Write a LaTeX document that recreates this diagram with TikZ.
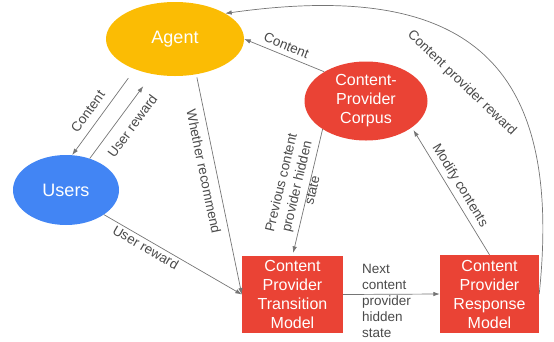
\documentclass[tikz,border=0pt]{standalone}
\usepackage{fontspec}
\setmainfont{Liberation Sans}
\usetikzlibrary{shapes.geometric,arrows.meta}
\definecolor{agentyellow}{HTML}{FBBC04}
\definecolor{userblue}{HTML}{4285F4}
\definecolor{providerred}{HTML}{EA4335}
\definecolor{edgegray}{HTML}{757575}
\definecolor{labelgray}{HTML}{4A4A4A}

\begin{document}
\begin{tikzpicture}[x=1pt,y=1pt,
  blob/.style={ellipse, inner sep=0pt, text=white, align=center},
  model/.style={rectangle, fill=providerred, inner sep=0pt, minimum height=77pt,
    text=white, align=center, font=\fontsize{16}{19}\selectfont},
  flow/.style={draw=edgegray, line width=0.7pt, -{Latex[length=6.5pt,width=4.5pt]}},
  tag/.style={text=labelgray, inner sep=2pt, font=\fontsize{13.5}{16}\selectfont}]
\useasboundingbox (0,0) rectangle (554,-341);

\node[blob, fill=agentyellow, minimum width=138pt, minimum height=74pt,
  font=\fontsize{18}{21}\selectfont] (agent) at (175,-39) {Agent};
\node[blob, fill=userblue, minimum width=106pt, minimum height=70pt,
  font=\fontsize{18}{21}\selectfont] (users) at (66,-190) {Users};
\node[blob, fill=providerred, minimum width=123pt, minimum height=79pt,
  font=\fontsize{16}{19}\selectfont] (corpus) at (366,-101) {Content-\\Provider\\Corpus};
\node[model, minimum width=101pt] (trans) at (292.5,-294.5) {Content\\Provider\\Transition\\Model};
\node[model, minimum width=99pt, minimum height=78pt] (resp) at (489.5,-294) {Content\\Provider\\Response\\Model};

\draw[flow, shorten <=11pt] (agent.217) -- node[tag, sloped, pos=0.58, above=6pt] {Content} (users.80);
\draw[flow, shorten >=15pt] (users.53) -- node[tag, sloped, pos=0.49, below=7.5pt] {User reward} (agent.237);
\draw[flow, shorten <=3pt] (agent.-59) -- node[tag, sloped, pos=0.43, below=5pt] {Whether recommend} (trans.west);
\draw[flow] (users.-33) -- node[tag, sloped, pos=0.33, below] {User reward} (trans.west);
\draw[flow] (corpus.145) -- node[tag, sloped, pos=0.52, above=3pt] {Content} (agent.east);
\draw[flow, shorten >=3pt] (corpus.213) -- node[tag, sloped, pos=0.475, above=-11pt, align=center]
  {Previous content\\provider hidden\\state} (trans.north);
\draw[flow, shorten >=3pt] (resp.north) -- node[tag, sloped, pos=0.5, above=2pt] {Modify contents} (corpus.-30);
\draw[flow] (trans.east) -- node[tag, midway, xshift=-5pt, yshift=-7pt, align=left]
  {Next\\content\\provider\\hidden\\state} (resp.west);
\draw[flow] (resp.east) to[out=84, in=8, looseness=1.45]
  node[tag, sloped, pos=0.48, below=27pt] {Content provider reward} (agent.27);
\end{tikzpicture}
\end{document}
